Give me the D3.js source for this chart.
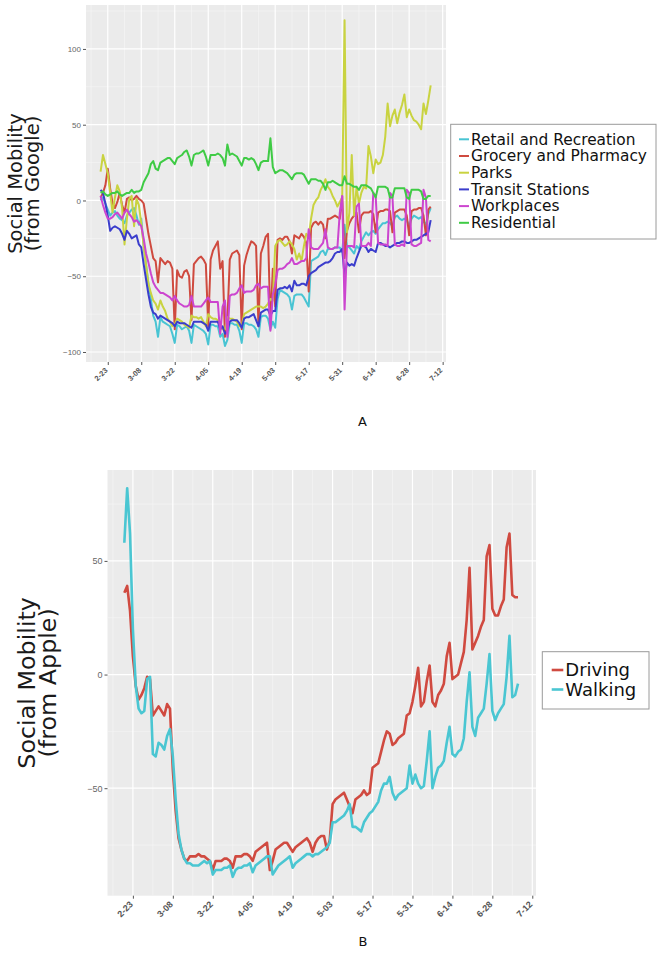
<!DOCTYPE html>
<html>
<head>
<meta charset="utf-8">
<script src="https://cdnjs.cloudflare.com/ajax/libs/d3/7.8.5/d3.min.js"></script>
<style>
body { margin: 0; background: #fff; }
svg { display: block; font-family: "DejaVu Sans", sans-serif; }
</style>
</head>
<body>
<div id="chart"></div>
<script>
// ---- data (daily values, first day 2020-02-20) ----
const firstDay = "2020-02-20";
const tickLabels = ["2-23","3-08","3-22","4-05","4-19","5-03","5-17","5-31","6-14","6-28","7-12"];

const googleNames = ["Retail and Recreation","Grocery and Pharmacy","Parks","Transit Stations","Workplaces","Residential"];
const googleColors = ["#48c4d3","#cf4a3f","#c9d340","#3b3dcc","#cc45cf","#3fcb45"];

const retail = [0, 2, -2, -6, -10, -8, -7, -10, -12, -13,
 -15, -10, -8, -6, -5, -10, -16, -12, -30, -42,
 -55, -65, -76, -80, -90, -77, -80, -81, -82, -83,
 -88, -94, -82, -83, -85, -84, -83, -86, -94, -82,
 -83, -84, -85, -86, -88, -95, -82, -82, -83, -83,
 -90, -88, -96, -92, -81, -81, -82, -82, -86, -94,
 -81, -81, -82, -82, -83, -85, -90, -77, -76, -76,
 -78, -85, -80, -84, -65, -59, -60, -61, -62, -64,
 -72, -63, -62, -62, -62, -64, -67, -70, -40, -39,
 -38, -37, -34, -33, -36, -32, -32, -32, -31, -31,
 -31, -34, -16, -30, -31, -33, -35, -30, -32, -27,
 -24, -21, -23, -21, -20, -22, -19, -17, -15, -15,
 -14, -15, -17, -11, -10, -12, -13, -12, -13, -17,
 -12, -10, -11, -12, -11, -14, -16, -9, -5];

const grocery = [2, 5, 10, 21, 8, -2, -5, -1, 5, -3,
 -8, 1, 2, 0, 1, 3, 1, 0, -2, -12,
 -22, -30, -38, -40, -54, -38, -40, -42, -40, -41,
 -45, -85, -46, -50, -51, -47, -46, -50, -79, -42,
 -40, -38, -37, -39, -42, -83, -39, -33, -30, -27,
 -45, -40, -90, -80, -39, -35, -34, -33, -36, -85,
 -43, -36, -31, -27, -28, -30, -83, -35, -30, -24,
 -22, -81, -45, -70, -26, -25, -26, -24, -24, -27,
 -35, -23, -24, -25, -22, -24, -28, -60, -18, -15,
 -14, -16, -14, -16, -25, -12, -12, -11, -10, -11,
 -12, 3, -38, -20, -15, -12, -10, -8, -21, -10,
 -8, -8, -8, -7, -9, -21, -8, -7, -7, -6,
 -6, -7, -21, -8, -7, -6, -6, -6, -10, -23,
 -7, -6, -6, -5, -5, -10, -23, -6, -4];

const parks = [19, 30, 24, 18, 5, -8, 2, 10, 6, -5,
 -29, -12, 1, 3, -17, 1, -3, -15, -30, -43,
 -55, -61, -66, -68, -72, -66, -70, -73, -78, -80,
 -83, -82, -78, -79, -80, -82, -83, -84, -76, -77,
 -77, -78, -77, -80, -83, -75, -77, -78, -78, -79,
 -82, -85, -85, -77, -78, -78, -79, -80, -83, -83,
 -75, -74, -73, -72, -71, -70, -70, -70, -71, -70,
 -68, -65, -66, -30, -27, -26, -28, -30, -29, -27,
 -29, -32, -39, -35, -40, -30, -22, -24, -12, -3,
 0, 2, 7, 10, 14, 9, 7, 3, 0, -4,
 -1, 2, 119, -21, -8, 30, -10, 9, -2, 5,
 9, 8, 36, 29, 18, 27, 24, 25, 30, 42,
 64, 49, 56, 60, 51, 58, 63, 70, 55, 60,
 56, 53, 52, 50, 47, 64, 57, 66, 76];

const transit = [7, 5, -2, -10, -20, -18, -17, -18, -19, -22,
 -26, -20, -22, -25, -24, -23, -29, -31, -42, -52,
 -62, -70, -74, -75, -78, -76, -77, -78, -79, -80,
 -81, -83, -80, -81, -81, -81, -82, -83, -84, -80,
 -80, -80, -80, -81, -82, -86, -80, -80, -80, -80,
 -85, -83, -88, -86, -80, -79, -79, -79, -81, -84,
 -78, -77, -77, -76, -75, -79, -83, -74, -73, -72,
 -72, -76, -73, -73, -59, -58, -58, -57, -58, -56,
 -60, -53, -56, -56, -55, -55, -56, -50, -48, -47,
 -46, -44, -43, -42, -41, -41, -40, -38, -35, -34,
 -34, -32, -50, -41, -43, -42, -43, -38, -34, -30,
 -30, -31, -34, -32, -33, -34, -28, -28, -29, -30,
 -30, -31, -30, -29, -28, -28, -27, -27, -28, -28,
 -27, -26, -26, -25, -24, -23, -22, -21, -13];

const workplaces = [3, -3, -8, -12, -12, -11, -9, -8, -10, -12,
 -8, -6, -9, -11, -14, -13, -15, -17, -25, -35,
 -41, -48, -54, -57, -59, -61, -61, -62, -63, -64,
 -66, -63, -66, -68, -69, -70, -70, -69, -63, -70,
 -70, -70, -70, -68, -66, -64, -67, -67, -67, -67,
 -88, -70, -66, -90, -63, -62, -62, -61, -58, -56,
 -61, -60, -60, -60, -59, -56, -55, -58, -57, -57,
 -57, -86, -62, -56, -46, -45, -45, -44, -42, -41,
 -38, -42, -42, -41, -40, -40, -38, -19, -31, -32,
 -32, -32, -30, -28, -19, -31, -32, -32, -31, -31,
 -8, 3, -72, -30, -30, -30, -31, -4, -2, -30,
 -30, -30, -28, -30, 5, 3, -28, -29, -29, -29,
 -30, 5, 3, -29, -30, -30, -29, -30, 7, 5,
 -29, -30, -30, -29, -28, 7, 2, -26, -27];

const residential = [5, 6, 4, 3, 4, 5, 5, 6, 4, 3,
 4, 5, 5, 7, 5, 6, 6, 7, 12, 15,
 18, 24, 26, 21, 20, 25, 26, 27, 28, 28,
 26, 24, 28, 29, 30, 32, 33, 29, 23, 30,
 31, 31, 32, 33, 29, 23, 30, 30, 30, 31,
 30, 28, 23, 37, 30, 31, 30, 29, 26, 23,
 28, 28, 27, 28, 27, 24, 20, 25, 26, 26,
 26, 41, 22, 18, 19, 20, 20, 19, 18, 16,
 14, 17, 18, 18, 18, 17, 14, 11, 14, 14,
 14, 13, 13, 11, 7, 12, 12, 13, 12, 11,
 10, 10, 16, 11, 11, 10, 9, 9, 7, 10,
 10, 10, 9, 8, 5, 2, 9, 9, 9, 9,
 8, 2, 2, 8, 8, 8, 8, 8, 2, 1,
 7, 7, 7, 7, 6, 1, 1, 3, 3];

const appleNames = ["Driving","Walking"];
const appleColors = ["#d04a40","#4ac6d2"];

const driving = [36, 39, 28, 8, -5, -11, -9, -6, -1, -2,
 -18, -16, -14, -16, -18, -13, -15, -42, -60, -72,
 -77, -81, -82, -80, -80, -80, -79, -80, -80, -81,
 -82, -86, -82, -82, -82, -81, -81, -82, -85, -80,
 -80, -80, -79, -79, -80, -82, -78, -77, -76, -75,
 -74, -86, -82, -77, -76, -75, -74, -74, -76, -78,
 -76, -75, -74, -73, -72, -74, -78, -74, -72, -71,
 -71, -77, -73, -57, -55, -54, -53, -52, -55, -58,
 -61, -55, -54, -53, -51, -53, -52, -41, -40, -39,
 -34, -29, -25, -26, -31, -30, -28, -27, -26, -18,
 -17, -12, -5, 3, -14, -12, -3, 4, -12, -14,
 -9, -7, -4, 8, 14, -2, -1, 0, 5, 10,
 24, 47, 11, 14, 17, 21, 24, 52, 57, 29,
 26, 26, 30, 33, 56, 62, 35, 34, 34];

const walking = [58, 82, 62, 20, -5, -15, -17, -16, -2, -1,
 -35, -36, -30, -31, -33, -27, -24, -36, -55, -70,
 -77, -81, -83, -83, -84, -84, -84, -83, -82, -83,
 -82, -88, -86, -86, -86, -85, -85, -84, -89, -86,
 -85, -85, -84, -84, -83, -87, -84, -83, -82, -81,
 -80, -80, -88, -86, -84, -83, -82, -81, -80, -85,
 -83, -82, -81, -80, -79, -79, -80, -79, -79, -78,
 -77, -76, -74, -65, -65, -64, -63, -62, -60, -57,
 -67, -67, -68, -69, -65, -63, -61, -60, -58, -56,
 -51, -48, -48, -45, -52, -55, -53, -52, -51, -50,
 -40, -48, -44, -48, -50, -49, -38, -25, -50, -45,
 -41, -40, -38, -30, -23, -35, -36, -34, -33, -28,
 -12, 1, -23, -27, -19, -17, -15, -4, 9, -16,
 -20, -17, -15, -13, -1, 17, -10, -9, -4];

// ---- setup ----
const svg = d3.select("#chart").append("svg")
  .attr("width", 660)
  .attr("height", 959);

const parseDay = d3.utcParse("%Y-%m-%d");
const day0 = parseDay(firstDay);
const dayDate = i => new Date(+day0 + i * 864e5);
const tickDates = tickLabels.map(t => parseDay("2020-" + t));

function drawPanel(o) {
  const x = d3.scaleUtc()
    .domain([dayDate(o.xDays[0]), dayDate(o.xDays[1])])
    .range([o.left, o.right]);
  const y = d3.scaleLinear()
    .domain(o.yDomain)
    .range([o.bottom, o.top]);

  const g = svg.append("g");

  // panel background
  g.append("rect")
    .attr("x", o.left).attr("y", o.top)
    .attr("width", o.right - o.left)
    .attr("height", o.bottom - o.top)
    .attr("fill", "#ebebeb");

  // minor grid (half way between majors)
  const xMinor = tickDates.map(d => new Date(+d - 7 * 864e5))
    .filter(d => x(d) >= o.left && x(d) <= o.right);
  g.selectAll(".xminor").data(xMinor).enter().append("line")
    .attr("x1", d => x(d)).attr("x2", d => x(d))
    .attr("y1", o.top).attr("y2", o.bottom)
    .attr("stroke", "#f7f7f7").attr("stroke-width", 0.6);
  g.selectAll(".yminor").data(o.yMinor).enter().append("line")
    .attr("x1", o.left).attr("x2", o.right)
    .attr("y1", d => y(d)).attr("y2", d => y(d))
    .attr("stroke", "#f7f7f7").attr("stroke-width", 0.6);

  // major grid
  g.selectAll(".xmajor").data(tickDates.filter(d => x(d) <= o.right)).enter().append("line")
    .attr("x1", d => x(d)).attr("x2", d => x(d))
    .attr("y1", o.top).attr("y2", o.bottom)
    .attr("stroke", "#fff").attr("stroke-width", 1.2);
  g.selectAll(".ymajor").data(o.yMajor).enter().append("line")
    .attr("x1", o.left).attr("x2", o.right)
    .attr("y1", d => y(d)).attr("y2", d => y(d))
    .attr("stroke", "#fff").attr("stroke-width", 1.2);

  // lines
  const line = d3.line()
    .x((d, i) => x(dayDate(i)))
    .y(d => y(d));
  o.series.forEach((s, k) => {
    g.append("path")
      .datum(s)
      .attr("d", line)
      .attr("fill", "none")
      .attr("stroke", o.colors[k])
      .attr("stroke-width", o.lineWidth)
      .attr("stroke-linejoin", "round");
  });

  // axes
  const yAxis = g.append("g")
    .attr("transform", `translate(${o.left},0)`)
    .call(d3.axisLeft(y).tickValues(o.yMajor).tickSize(3).tickPadding(2));
  const xAxis = g.append("g")
    .attr("transform", `translate(0,${o.bottom})`)
    .call(d3.axisBottom(x).tickValues(tickDates).tickSize(3)
      .tickFormat((d, i) => tickLabels[i]));
  [xAxis, yAxis].forEach(a => {
    a.select(".domain").remove();
    a.selectAll(".tick line").attr("stroke", "#555");
  });
  yAxis.selectAll("text")
    .attr("fill", "#666")
    .style("font-size", o.yTickSize + "px");
  xAxis.selectAll("text")
    .attr("x", 0).attr("y", 0).attr("dy", "0.35em")
    .attr("text-anchor", "end")
    .attr("transform", `translate(${o.xLabelOff[0]},${o.xLabelOff[1]}) rotate(-45)`)
    .attr("fill", "#555")
    .style("font-weight", "bold")
    .style("font-size", o.xTickSize + "px");

  // y axis title, two lines
  o.yTitle.forEach((t, i) => {
    svg.append("text")
      .attr("transform", `translate(${o.titleX[i]},${(o.top + o.bottom) / 2}) rotate(-90)`)
      .attr("text-anchor", "middle")
      .attr("fill", "#1a1a1a")
      .style("font-size", o.titleSize + "px")
      .text(t);
  });

  // legend
  const lg = svg.append("g");
  const L = o.legend;
  lg.append("rect")
    .attr("x", L.x).attr("y", L.y)
    .attr("width", L.w).attr("height", L.h)
    .attr("fill", "#fff").attr("stroke", "#9a9a9a").attr("stroke-width", 1);
  o.names.forEach((n, k) => {
    const cy = L.row0 + k * L.step;
    lg.append("line")
      .attr("x1", L.keyX).attr("x2", L.keyX + L.keyW)
      .attr("y1", cy).attr("y2", cy)
      .attr("stroke", o.colors[k]).attr("stroke-width", L.keyStroke);
    lg.append("text")
      .attr("x", L.keyX + L.keyW + 2).attr("y", cy)
      .attr("dy", "0.35em")
      .attr("fill", "#111")
      .style("font-size", L.font + "px")
      .text(n);
  });

  // panel caption
  svg.append("text")
    .attr("x", o.caption.x).attr("y", o.caption.y)
    .attr("text-anchor", "middle")
    .attr("dy", "0.35em")
    .attr("fill", "#111")
    .style("font-size", "13px")
    .text(o.caption.t);
}

drawPanel({
  left: 86, right: 446, top: 5, bottom: 362,
  xDays: [-6.1, 144.4],
  yDomain: [-106.6, 129],
  yMajor: [-100, -50, 0, 50, 100],
  yMinor: [-75, -25, 25, 75, 125],
  series: [retail, grocery, parks, transit, workplaces, residential],
  names: googleNames,
  colors: googleColors,
  lineWidth: 2,
  yTickSize: 8, xTickSize: 7.5,
  xLabelOff: [-2, 7],
  yTitle: ["Social Mobility", "(from Google)"],
  titleX: [21.5, 38.5], titleSize: 19.5,
  legend: { x: 450.7, y: 124.3, w: 205.3, h: 114.7, keyX: 459, keyW: 10, keyStroke: 2,
            row0: 139.3, step: 16.7, font: 15.4 },
  caption: { x: 362.5, y: 421.5, t: "A" }
});

drawPanel({
  left: 107.5, right: 536, top: 470, bottom: 895.7,
  xDays: [-5.9, 144.3],
  yDomain: [-97.3, 90],
  yMajor: [-50, 0, 50],
  yMinor: [-75, -25, 25, 75],
  series: [driving, walking],
  names: appleNames,
  colors: appleColors,
  lineWidth: 2.6,
  yTickSize: 9, xTickSize: 9,
  xLabelOff: [-2, 7],
  yTitle: ["Social Mobility", "(from Apple)"],
  titleX: [35, 56], titleSize: 23.8,
  legend: { x: 542.3, y: 651.7, w: 106.7, h: 57.3, keyX: 551.7, keyW: 11.6, keyStroke: 2.6,
            row0: 670, step: 19.5, font: 18 },
  caption: { x: 363, y: 941.7, t: "B" }
});
</script>
</body>
</html>
